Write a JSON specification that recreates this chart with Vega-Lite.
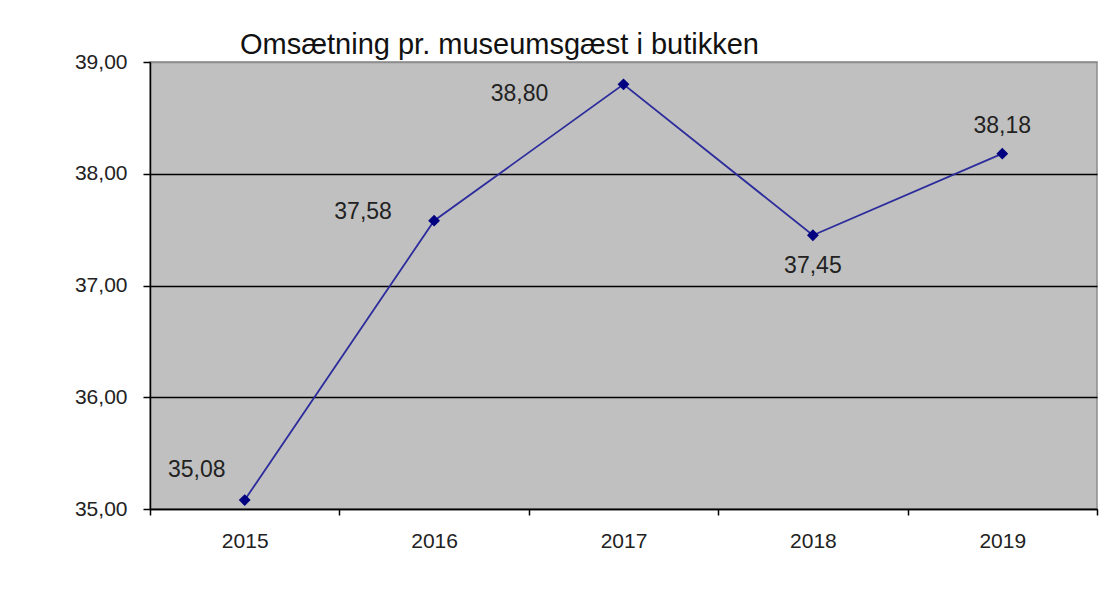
{
  "$schema": "https://vega.github.io/schema/vega-lite/v6.json",
  "width": 947,
  "height": 447,
  "autosize": {"type": "none"},
  "padding": {"left": 150, "top": 62, "right": 21, "bottom": 82},
  "background": "white",
  "config": {
    "locale": {"number": {"decimal": ",", "thousands": ".", "grouping": [3], "currency": ["", " kr."]}},
    "view": {"fill": "#C0C0C0", "stroke": "#8c8c8c", "strokeWidth": 1.5},
    "font": "Liberation Sans"
  },
  "title": {
    "text": "Omsætning pr. museumsgæst i butikken",
    "anchor": "start",
    "frame": "group",
    "dx": 90,
    "dy": 40,
    "offset": 8,
    "baseline": "alphabetic",
    "fontSize": 29,
    "fontWeight": "normal",
    "font": "Liberation Sans",
    "color": "#111111"
  },
  "data": {
    "values": [
      {"year": "2015", "value": 35.08},
      {"year": "2016", "value": 37.58},
      {"year": "2017", "value": 38.80},
      {"year": "2018", "value": 37.45},
      {"year": "2019", "value": 38.18}
    ]
  },
  "encoding": {
    "x": {
      "field": "year",
      "type": "ordinal",
      "scale": {"type": "band", "paddingInner": 0, "paddingOuter": 0},
      "axis": {
        "title": null,
        "labelAngle": 0,
        "tickBand": "extent",
        "domainColor": "black",
        "domainWidth": 1.5,
        "tickColor": "black",
        "tickWidth": 1.5,
        "tickSize": 6,
        "labelPadding": 15,
        "labelFontSize": 21,
        "labelColor": "#222222",
        "labelFont": "Liberation Sans"
      }
    },
    "y": {
      "field": "value",
      "type": "quantitative",
      "scale": {"domain": [35, 39], "zero": false, "nice": false},
      "axis": {
        "title": null,
        "values": [35, 36, 37, 38, 39],
        "format": ".2f",
        "grid": true,
        "gridColor": {"condition": {"test": "datum.value === 39", "value": "#8c8c8c"}, "value": "black"},
        "gridWidth": 1.5,
        "domainColor": "black",
        "domainWidth": 1.5,
        "tickColor": "black",
        "tickWidth": 1.5,
        "tickSize": 7,
        "labelPadding": 16,
        "labelFontSize": 21,
        "labelColor": "#222222",
        "labelFont": "Liberation Sans"
      }
    }
  },
  "layer": [
    {"mark": {"type": "line", "color": "#2c2c9c", "strokeWidth": 1.8}},
    {"mark": {"type": "point", "shape": "diamond", "filled": true, "opacity": 1, "color": "#000080", "size": 140}},
    {
      "transform": [{"filter": "datum.year === '2015'"}],
      "mark": {"type": "text", "dx": -48, "dy": -30, "fontSize": 23, "color": "#222222"},
      "encoding": {"text": {"field": "value", "type": "quantitative", "format": ".2f"}}
    },
    {
      "transform": [{"filter": "datum.year === '2016'"}],
      "mark": {"type": "text", "dx": -71, "dy": -9, "fontSize": 23, "color": "#222222"},
      "encoding": {"text": {"field": "value", "type": "quantitative", "format": ".2f"}}
    },
    {
      "transform": [{"filter": "datum.year === '2017'"}],
      "mark": {"type": "text", "dx": -104, "dy": 10, "fontSize": 23, "color": "#222222"},
      "encoding": {"text": {"field": "value", "type": "quantitative", "format": ".2f"}}
    },
    {
      "transform": [{"filter": "datum.year === '2018'"}],
      "mark": {"type": "text", "dx": 0, "dy": 31, "fontSize": 23, "color": "#222222"},
      "encoding": {"text": {"field": "value", "type": "quantitative", "format": ".2f"}}
    },
    {
      "transform": [{"filter": "datum.year === '2019'"}],
      "mark": {"type": "text", "dx": 0, "dy": -28, "fontSize": 23, "color": "#222222"},
      "encoding": {"text": {"field": "value", "type": "quantitative", "format": ".2f"}}
    }
  ]
}
